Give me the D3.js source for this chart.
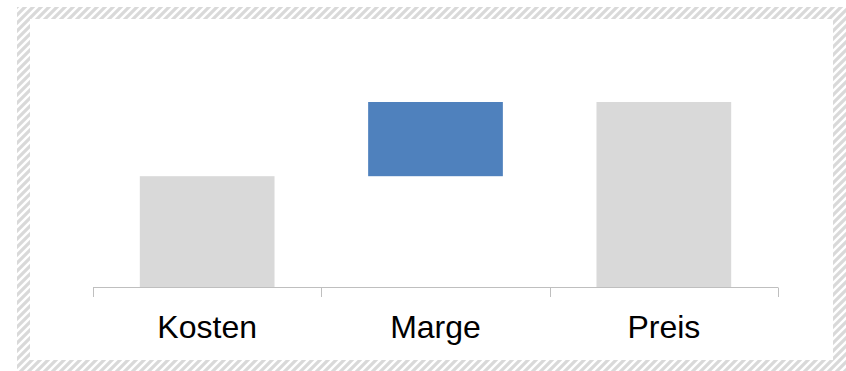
<!DOCTYPE html>
<html>
<head>
<meta charset="utf-8">
<script src="https://cdn.jsdelivr.net/npm/d3@7"></script>
<style>
  body { margin: 0; background: #fff; }
  svg { display: block; }
</style>
</head>
<body>
<div id="viz"></div>
<script>
// data
var categories = ["Kosten", "Marge", "Preis"];
var starts = [0, 60, 0];     // where each bar begins
var values = [60, 40, 100];  // bar length
var colors = ["#d9d9d9", "#4f81bd", "#d9d9d9"];

var W = 846, H = 371;
var svg = d3.select("#viz").append("svg").attr("width", W).attr("height", H);

// hatched frame
var defs = svg.append("defs");
var pat = defs.append("pattern")
	.attr("id", "hatch")
	.attr("patternUnits", "userSpaceOnUse")
	.attr("width", 8).attr("height", 8);
pat.append("path")
	.attr("d", "M-2,2 L2,-2 M0,8 L8,0 M6,10 L10,6")
	.attr("stroke", "#d9d9d9")
	.attr("stroke-width", 3.2);

svg.append("path")
	.attr("fill", "url(#hatch)")
	.attr("fill-rule", "evenodd")
	.attr("d", "M17,7 H846 V371 H17 Z M30,19 H833 V360 H30 Z");

// scales
var x = d3.scaleBand().domain(categories).range([93, 778]).paddingInner(0.41).paddingOuter(0.205);
var y = d3.scaleLinear().domain([0, 100]).range([287.5, 102]);

// bars
var rows = categories.map(function(c, i) { return {cat: c, s: starts[i], v: values[i], col: colors[i]}; });
svg.selectAll("rect.bar").data(rows).enter().append("rect")
	.attr("class", "bar")
	.attr("x", function(d) { return x(d.cat); })
	.attr("width", x.bandwidth())
	.attr("y", function(d) { return y(d.s + d.v); })
	.attr("height", function(d) { return y(d.s) - y(d.s + d.v); })
	.attr("fill", function(d) { return d.col; });

// axis
var band = d3.scaleBand().domain(categories).range([93, 778]);
var axis = svg.append("g");
axis.append("line")
	.attr("x1", 93).attr("x2", 778)
	.attr("y1", 287.5).attr("y2", 287.5)
	.attr("stroke", "#bfbfbf").attr("stroke-width", 1);
var tickPos = categories.map(function(c) { return band(c); }).concat([778]);
axis.selectAll("line.tick").data(tickPos).enter().append("line")
	.attr("class", "tick")
	.attr("x1", function(d) { return Math.round(d) + 0.5; })
	.attr("x2", function(d) { return Math.round(d) + 0.5; })
	.attr("y1", 287.5).attr("y2", 297)
	.attr("stroke", "#bfbfbf").attr("stroke-width", 1);
axis.selectAll("text").data(categories).enter().append("text")
	.attr("x", function(d) { return band(d) + band.bandwidth() / 2; })
	.attr("y", 338)
	.attr("text-anchor", "middle")
	.attr("font-family", "Liberation Sans, Arial, sans-serif")
	.attr("font-size", 32)
	.attr("fill", "#000")
	.text(function(d) { return d; });
</script>
</body>
</html>
